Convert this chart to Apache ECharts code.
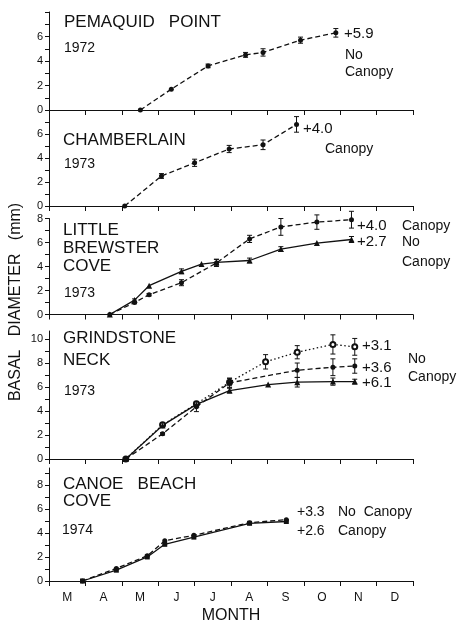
<!DOCTYPE html>
<html>
<head>
<meta charset="utf-8">
<script src="https://cdn.jsdelivr.net/npm/echarts@6/dist/echarts.min.js"></script>
<style>
  html, body { margin: 0; padding: 0; background: #fff; }
  #chart { width: 457px; height: 625px; }
</style>
</head>
<body>
<div id="chart"></div>
<script>
// month axis: 3 = start of March ... 13 = end of December
const months = ["M", "A", "M", "J", "J", "A", "S", "O", "N", "D"];

// Pemaquid Point 1972
const pemaquidX = [5.51, 6.36, 7.37, 8.40, 8.88, 9.91, 10.88];
const pemaquidY = [0, 1.7, 3.6, 4.5, 4.7, 5.7, 6.3];
const pemaquidErr = [0, 0, 0.15, 0.2, 0.3, 0.25, 0.35];

// Chamberlain 1973
const chamberlainX = [5.08, 6.09, 7.0, 7.95, 8.88, 9.8];
const chamberlainY = [0, 2.5, 3.6, 4.75, 5.1, 6.8];
const chamberlainErr = [0, 0.2, 0.3, 0.3, 0.4, 0.65];

// Little Brewster Cove 1973
const brewsterCanopyX = [4.67, 5.35, 5.75, 6.64, 7.6, 8.51, 9.37, 10.36, 11.31];
const brewsterCanopyY = [0, 1.0, 1.65, 2.65, 4.3, 6.3, 7.3, 7.7, 7.9];
const brewsterCanopyErr = [0, 0.1, 0.1, 0.25, 0.3, 0.3, 0.7, 0.6, 0.7];
const brewsterNoCanopyX = [4.67, 5.35, 5.75, 6.64, 7.19, 7.6, 8.51, 9.37, 10.36, 11.31];
const brewsterNoCanopyY = [0, 1.2, 2.4, 3.6, 4.2, 4.35, 4.5, 5.45, 5.95, 6.25];
const brewsterNoCanopyErr = [0, 0.1, 0, 0.2, 0, 0.25, 0.2, 0.2, 0, 0.25];

// Grindstone Neck 1973
const grindOpenX = [5.11, 6.12, 7.05, 7.96, 8.95, 9.82, 10.8, 11.4];
const grindOpenY = [0, 2.85, 4.6, 6.4, 8.1, 8.9, 9.55, 9.35];
const grindOpenErr = [0, 0.15, 0.2, 0.3, 0.6, 0.55, 0.8, 0.7];
const grindFilledX = [5.11, 6.12, 7.05, 7.96, 9.82, 10.8, 11.4];
const grindFilledY = [0, 2.1, 4.35, 6.35, 7.4, 7.65, 7.75];
const grindFilledErr = [0, 0.1, 0.4, 0.4, 0.6, 0.7, 0.6];
const grindTriX = [5.11, 6.12, 7.05, 7.96, 9.02, 9.82, 10.8, 11.4];
const grindTriY = [0, 2.8, 4.55, 5.7, 6.2, 6.4, 6.45, 6.45];
const grindTriErr = [0, 0.1, 0.2, 0.2, 0, 0.4, 0.3, 0.2];

// Canoe Beach Cove 1974
const canoeX = [3.92, 4.85, 5.70, 6.18, 6.98, 8.51, 9.52];
const canoeNoCanopyY = [0, 1.05, 2.1, 3.35, 3.8, 4.85, 5.1];
const canoeCanopyY = [0, 0.9, 2.0, 3.05, 3.65, 4.8, 4.95];

// y tick labels per panel
const yLabels = [
  [0, 2, 4, 6],
  [0, 2, 4, 6],
  [0, 2, 4, 6, 8],
  [0, 2, 4, 6, 8, 10],
  [0, 2, 4, 6, 8],
];

const INK = "#111";
const FONT = "Liberation Sans";

const pts = (xs, ys) => xs.map((x, i) => [x, ys[i]]);
const errs = (xs, ys, es) =>
  xs.map((x, i) => [x, ys[i], es[i]]).filter((d) => d[2] > 0);

// panel layout (pixels)
const panels = [
  { top: 12, height: 98, max: 8 },
  { top: 110, height: 96, max: 8 },
  { top: 218.5, height: 96, max: 8 },
  { top: 331, height: 128, max: 10.67 },
  { top: 468, height: 113, max: 9.4 },
];

const grid = panels.map((p) => ({
  left: 49,
  width: 364,
  top: p.top,
  height: p.height,
}));

const xAxis = panels.map((p, i) => ({
  type: "value",
  gridIndex: i,
  min: 3,
  max: 13,
  interval: 1,
  axisLine: { show: true, lineStyle: { color: INK, width: 1 } },
  axisTick: { show: true, inside: false, length: 5, lineStyle: { color: INK } },
  axisLabel: { show: false },
  splitLine: { show: false },
}));
xAxis.push({
  type: "category",
  gridIndex: 4,
  data: months,
  boundaryGap: true,
  position: "bottom",
  axisLine: { show: false },
  axisTick: { show: false },
  axisLabel: { margin: 11, fontSize: 12, fontFamily: FONT, color: INK },
});

const yAxis = panels.map((p, i) => {
  const ticks = [];
  for (let v = 0; v <= p.max; v++) ticks.push(v);
  return {
    type: "value",
    gridIndex: i,
    min: 0,
    max: p.max,
    axisLine: { show: true, lineStyle: { color: INK, width: 1 } },
    axisTick: { show: true, length: 4, customValues: ticks, lineStyle: { color: INK } },
    axisLabel: {
      customValues: yLabels[i],
      margin: 6,
      fontSize: 11,
      fontFamily: FONT,
      color: INK,
    },
    splitLine: { show: false },
  };
});

function lineSeries(idx, data, lineType, symbol, size) {
  const open = symbol === "emptyCircle";
  return {
    type: "line",
    xAxisIndex: idx,
    yAxisIndex: idx,
    data: data,
    symbol: symbol,
    symbolSize: size,
    showAllSymbol: true,
    lineStyle: { color: INK, width: 1.3, type: lineType },
    itemStyle: {
      color: INK,
      borderColor: INK,
      borderWidth: open ? 1.2 : 0,
    },
    animation: false,
    z: 3,
  };
}

function errorSeries(idx, data) {
  return {
    type: "custom",
    xAxisIndex: idx,
    yAxisIndex: idx,
    data: data,
    animation: false,
    z: 2,
    renderItem: (params, api) => {
      const x = api.value(0);
      const y = api.value(1);
      const e = api.value(2);
      const hi = api.coord([x, y + e]);
      const lo = api.coord([x, y - e]);
      const cap = 2.5;
      const st = { stroke: INK, lineWidth: 1 };
      return {
        type: "group",
        children: [
          { type: "line", shape: { x1: hi[0], y1: hi[1], x2: lo[0], y2: lo[1] }, style: st },
          { type: "line", shape: { x1: hi[0] - cap, y1: hi[1], x2: hi[0] + cap, y2: hi[1] }, style: st },
          { type: "line", shape: { x1: lo[0] - cap, y1: lo[1], x2: lo[0] + cap, y2: lo[1] }, style: st },
        ],
      };
    },
  };
}

const DASH = [5, 3];
const DOT = [1.5, 2.5];

const series = [
  lineSeries(0, pts(pemaquidX, pemaquidY), DASH, "circle", 5),
  errorSeries(0, errs(pemaquidX, pemaquidY, pemaquidErr)),

  lineSeries(1, pts(chamberlainX, chamberlainY), DASH, "circle", 5),
  errorSeries(1, errs(chamberlainX, chamberlainY, chamberlainErr)),

  lineSeries(2, pts(brewsterCanopyX, brewsterCanopyY), DASH, "circle", 5),
  errorSeries(2, errs(brewsterCanopyX, brewsterCanopyY, brewsterCanopyErr)),
  lineSeries(2, pts(brewsterNoCanopyX, brewsterNoCanopyY), "solid", "triangle", 6),
  errorSeries(2, errs(brewsterNoCanopyX, brewsterNoCanopyY, brewsterNoCanopyErr)),

  lineSeries(3, pts(grindOpenX, grindOpenY), DOT, "emptyCircle", 5),
  errorSeries(3, errs(grindOpenX, grindOpenY, grindOpenErr)),
  lineSeries(3, pts(grindFilledX, grindFilledY), DASH, "circle", 5),
  errorSeries(3, errs(grindFilledX, grindFilledY, grindFilledErr)),
  lineSeries(3, pts(grindTriX, grindTriY), "solid", "triangle", 6),
  errorSeries(3, errs(grindTriX, grindTriY, grindTriErr)),

  lineSeries(4, pts(canoeX, canoeNoCanopyY), DASH, "circle", 5),
  lineSeries(4, pts(canoeX, canoeCanopyY), "solid", "rect", 5),
];

// annotation text
function txt(x, y, text, size) {
  return {
    type: "text",
    x: x,
    y: y,
    silent: true,
    style: {
      text: text,
      fontSize: size,
      fontFamily: FONT,
      fill: INK,
      verticalAlign: "middle",
    },
  };
}

const graphic = [
  txt(64, 22, "PEMAQUID   POINT", 17),
  txt(64, 48, "1972", 14),
  txt(344, 34, "+5.9", 15),
  txt(345, 55, "No", 14),
  txt(345, 72, "Canopy", 14),

  txt(63, 140, "CHAMBERLAIN", 17),
  txt(64, 164, "1973", 14),
  txt(303, 129, "+4.0", 15),
  txt(325, 149, "Canopy", 14),

  txt(63, 230, "LITTLE", 17),
  txt(63, 248, "BREWSTER", 17),
  txt(63, 266, "COVE", 17),
  txt(64, 293, "1973", 14),
  txt(357, 226, "+4.0", 15),
  txt(402, 226, "Canopy", 14),
  txt(357, 242, "+2.7", 15),
  txt(402, 242, "No", 14),
  txt(402, 262, "Canopy", 14),

  txt(63, 338, "GRINDSTONE", 17),
  txt(63, 360, "NECK", 17),
  txt(64, 391, "1973", 14),
  txt(362, 346, "+3.1", 15),
  txt(362, 368, "+3.6", 15),
  txt(362, 383, "+6.1", 15),
  txt(408, 359, "No", 14),
  txt(408, 377, "Canopy", 14),

  txt(63, 484, "CANOE   BEACH", 17),
  txt(63, 501, "COVE", 17),
  txt(62, 530, "1974", 14),
  txt(297, 512, "+3.3", 14),
  txt(338, 512, "No  Canopy", 14),
  txt(297, 531, "+2.6", 14),
  txt(338, 531, "Canopy", 14),

  {
    type: "text",
    x: 231,
    y: 616,
    style: { text: "MONTH", fontSize: 16, fontFamily: FONT, fill: INK, align: "center", verticalAlign: "middle" },
  },
  {
    type: "text",
    x: 16,
    y: 302,
    rotation: Math.PI / 2,
    style: {
      text: "BASAL   DIAMETER   (mm)",
      fontSize: 16,
      fontFamily: FONT,
      fill: INK,
      align: "center",
      verticalAlign: "middle",
    },
  },
];

const chart = echarts.init(document.getElementById("chart"));
chart.setOption({
  backgroundColor: "#fff",
  animation: false,
  grid: grid,
  xAxis: xAxis,
  yAxis: yAxis,
  series: series,
  graphic: graphic,
});
</script>
</body>
</html>
